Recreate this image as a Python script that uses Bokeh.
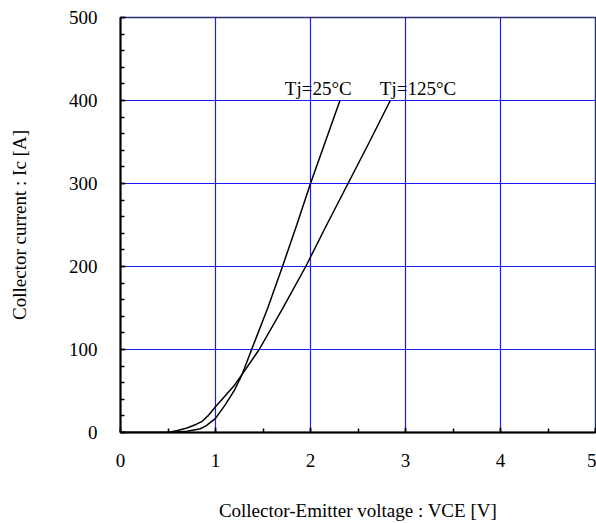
from bokeh.plotting import figure
from bokeh.models import Range1d, SingleIntervalTicker, Label
from bokeh.embed import file_html
from bokeh.resources import INLINE

# Tj = 25 °C curve (VCE [V], Ic [A])
vce_25 = [0.0, 0.56, 0.6, 0.7, 0.8, 0.84, 0.9, 1.0, 1.1, 1.2, 1.28, 1.38,
          1.55, 1.705, 1.855, 2.0, 2.155, 2.31]
ic_25 = [0, 0, 0.5, 1.5, 3.5, 4.5, 8, 17, 33, 51, 70, 100,
         150, 200, 250, 300, 350, 400]

# Tj = 125 °C curve
vce_125 = [0.0, 0.5, 0.6, 0.7, 0.8, 0.86, 0.92, 1.0, 1.1, 1.2, 1.28, 1.46,
           1.7, 1.95, 2.17, 2.395, 2.62, 2.84]
ic_125 = [0, 0, 2.5, 5.5, 10, 13.5, 20, 31, 44, 57, 70, 100,
          148, 200, 250, 300, 350, 400]

label_25 = "Tj=25°C"
label_125 = "Tj=125°C"
x_title = "Collector-Emitter voltage : VCE [V]"
y_title = "Collector current : Ic [A]"

FONT = "Liberation Serif"

p = figure(width=596, height=523, x_range=Range1d(0, 5), y_range=Range1d(0, 500),
           output_backend="svg", toolbar_location=None,
           min_border_left=120, min_border_right=1, min_border_top=17, min_border_bottom=91)

p.xaxis.ticker = SingleIntervalTicker(interval=1, num_minor_ticks=2)
p.yaxis.ticker = SingleIntervalTicker(interval=100, num_minor_ticks=5)

for ax in (p.xaxis[0], p.yaxis[0]):
    ax.axis_line_color = "black"
    ax.axis_line_width = 2
    ax.major_tick_in = 5
    ax.major_tick_out = 0
    ax.minor_tick_in = 4
    ax.minor_tick_out = 0
    ax.major_tick_line_color = "black"
    ax.minor_tick_line_color = "black"
    ax.major_tick_line_width = 1.5
    ax.minor_tick_line_width = 1.5
    ax.major_label_text_font = FONT
    ax.major_label_text_font_size = "19px"
    ax.major_label_text_color = "black"
    ax.axis_label_text_font = FONT
    ax.axis_label_text_font_size = "19px"
    ax.axis_label_text_font_style = "normal"
    ax.axis_label_text_color = "black"

p.xaxis.axis_label = x_title
p.yaxis.axis_label = y_title
p.xaxis.major_label_standoff = 21
p.xaxis.axis_label_standoff = 30
p.yaxis.major_label_standoff = 23
p.yaxis.axis_label_standoff = 36
p.yaxis.major_label_orientation = "horizontal"

p.xgrid.grid_line_color = "#1a1aff"
p.ygrid.grid_line_color = "#1a1aff"
p.xgrid.grid_line_width = 1.2
p.ygrid.grid_line_width = 1.2

p.outline_line_color = "#2e2e78"
p.outline_line_width = 1.5
p.outline_line_alpha = 1.0

p.line(vce_25, ic_25, line_color="black", line_width=1.5)
p.line(vce_125, ic_125, line_color="black", line_width=1.5)

p.add_layout(Label(x=1.73, y=415, text=label_25, text_font=FONT, text_font_size="19px",
                   text_color="black", text_baseline="alphabetic"))
p.add_layout(Label(x=2.73, y=415, text=label_125, text_font=FONT, text_font_size="19px",
                   text_color="black", text_baseline="alphabetic"))

open("out.html", "w").write(file_html(p, INLINE))
